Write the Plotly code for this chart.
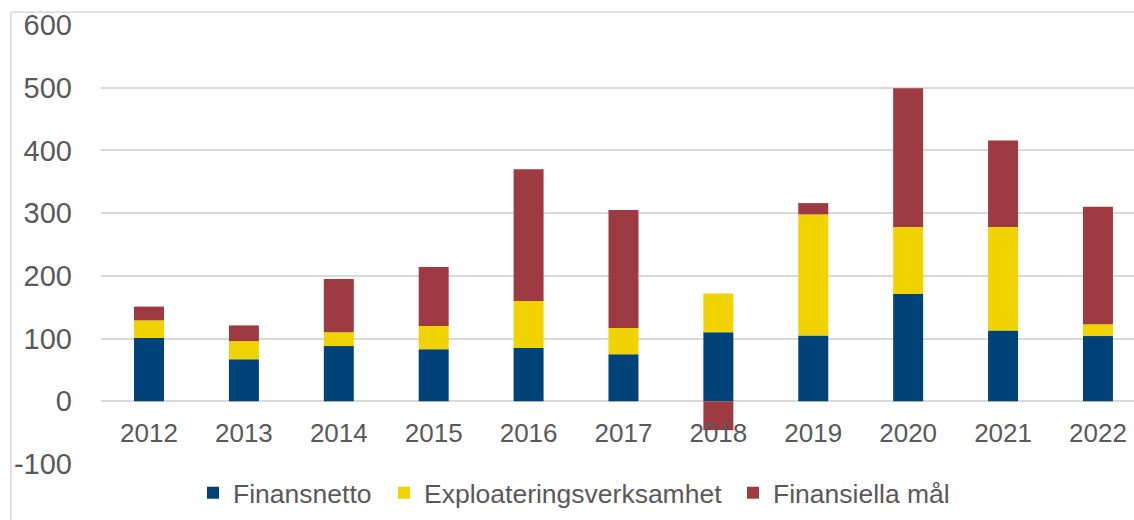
import plotly.graph_objects as go

years = ["2012", "2013", "2014", "2015", "2016", "2017", "2018", "2019", "2020", "2021", "2022"]
finansnetto = [101, 67, 88, 83, 85, 75, 110, 105, 171, 113, 104]
exploatering = [28, 29, 22, 37, 75, 42, 62, 193, 107, 165, 19]
finansiella = [22, 25, 85, 94, 210, 188, -46, 18, 221, 138, 187]
y_ticks = [-100, 0, 100, 200, 300, 400, 500, 600]
y_ticktext = ["-100", "0", "100", "200", "300", "400", "500", "600"]

series = [
    ("Finansnetto", finansnetto, "#004378", "legend"),
    ("Exploateringsverksamhet", exploatering, "#F0D300", "legend2"),
    ("Finansiella mål", finansiella, "#9D3A42", "legend3"),
]

fig = go.Figure()
for name, vals, col, leg in series:
    fig.add_trace(go.Bar(x=years, y=vals, name=name, marker_color=col,
                         marker_line_width=0, width=0.316, legend=leg,
                         showlegend=True))

font_family = "Liberation Sans, Arial, sans-serif"
grid = "#d9d9d9"
W = 1033.0
H = 439.0


def px_x(p):
    return (p - 101) / W


def px_y(p):
    return (464 - p) / H


leg_common = dict(orientation="h", xanchor="left", y=px_y(493), yanchor="middle",
                  font=dict(size=26.5, color="#595959"), itemwidth=30,
                  bgcolor="rgba(0,0,0,0)")

fig.update_layout(
    width=1134, height=520,
    barmode="relative",
    showlegend=True,
    plot_bgcolor="white", paper_bgcolor="white",
    margin=dict(l=101, r=0, t=25, b=56),
    font=dict(family=font_family, color="#595959", size=25),
    xaxis=dict(
        type="category", range=[-0.506, 10.38],
        showgrid=False, showline=False, zeroline=False,
        anchor="free", position=(464 - 401) / H,
        ticks="", ticklabelstandoff=14,
        tickfont=dict(size=26, color="#595959"),
    ),
    yaxis=dict(
        range=[-100, 600], tickmode="array", tickvals=y_ticks, ticktext=y_ticktext,
        showgrid=True, gridcolor=grid, gridwidth=1.5,
        zeroline=True, zerolinecolor=grid, zerolinewidth=1.5,
        showline=False, ticks="", ticklabelstandoff=28,
        tickfont=dict(size=29, color="#595959"),
    ),
    legend=dict(x=px_x(193), **leg_common),
    legend2=dict(x=px_x(384), **leg_common),
    legend3=dict(x=px_x(733), **leg_common),
    shapes=[
        dict(type="line", xref="paper", yref="paper", x0=px_x(11), x1=px_x(11),
             y0=px_y(12), y1=px_y(540), line=dict(color=grid, width=1.5), layer="below"),
        dict(type="line", xref="paper", yref="paper", x0=px_x(11), x1=px_x(1150),
             y0=px_y(12), y1=px_y(12), line=dict(color=grid, width=1.5), layer="below"),
    ],
)

fig.write_html("out.html", config={"displayModeBar": False},
               post_script="document.body.style.margin='0';document.body.style.overflow='hidden';")
